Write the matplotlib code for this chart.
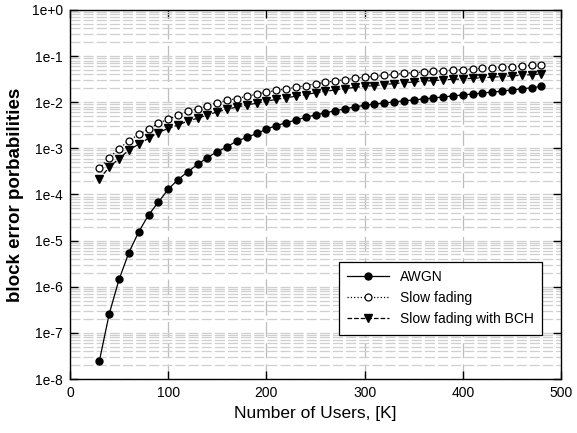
import matplotlib
matplotlib.use('Agg')
import matplotlib.pyplot as plt
from matplotlib.ticker import LogLocator, FixedLocator

plt.rcParams['font.family'] = ['Liberation Sans', 'DejaVu Sans']

# number of users, K
users = [30, 40, 50, 60, 70, 80, 90, 100, 110, 120, 130, 140, 150, 160, 170,
         180, 190, 200, 210, 220, 230, 240, 250, 260, 270, 280, 290, 300, 310,
         320, 330, 340, 350, 360, 370, 380, 390, 400, 410, 420, 430, 440, 450,
         460, 470, 480]

awgn = [2.5e-8, 2.6e-7, 1.45e-6, 5.5e-6, 1.55e-5, 3.6e-5, 6.8e-5, 1.3e-4,
        2.1e-4, 3.1e-4, 4.5e-4, 6.3e-4, 8.5e-4, 1.08e-3, 1.45e-3, 1.73e-3,
        2.1e-3, 2.6e-3, 3.1e-3, 3.6e-3, 4.1e-3, 4.7e-3, 5.3e-3, 5.9e-3,
        6.5e-3, 7.2e-3, 7.9e-3, 8.6e-3, 9.1e-3, 9.6e-3, 1.02e-2, 1.07e-2,
        1.12e-2, 1.18e-2, 1.24e-2, 1.30e-2, 1.37e-2, 1.44e-2, 1.51e-2,
        1.58e-2, 1.66e-2, 1.74e-2, 1.85e-2, 1.95e-2, 2.06e-2, 2.2e-2]

slow_fading = [3.7e-4, 6.3e-4, 9.8e-4, 1.47e-3, 2.0e-3, 2.6e-3, 3.5e-3, 4.3e-3,
               5.2e-3, 6.3e-3, 7.2e-3, 8.4e-3, 9.8e-3, 1.1e-2, 1.2e-2, 1.35e-2,
               1.5e-2, 1.65e-2, 1.8e-2, 1.95e-2, 2.1e-2, 2.3e-2, 2.5e-2, 2.7e-2,
               2.9e-2, 3.1e-2, 3.3e-2, 3.5e-2, 3.65e-2, 3.8e-2, 4.0e-2, 4.2e-2,
               4.4e-2, 4.5e-2, 4.65e-2, 4.8e-2, 4.95e-2, 5.1e-2, 5.25e-2, 5.4e-2,
               5.55e-2, 5.7e-2, 5.85e-2, 6.1e-2, 6.3e-2, 6.5e-2]

slow_fading_bch = [2.2e-4, 3.9e-4, 6.0e-4, 9.2e-4, 1.23e-3, 1.65e-3, 2.2e-3,
                   2.7e-3, 3.2e-3, 3.9e-3, 4.5e-3, 5.3e-3, 6.2e-3, 7.0e-3,
                   7.9e-3, 8.7e-3, 9.5e-3, 1.05e-2, 1.15e-2, 1.25e-2, 1.35e-2,
                   1.47e-2, 1.6e-2, 1.72e-2, 1.85e-2, 1.97e-2, 2.1e-2, 2.2e-2,
                   2.3e-2, 2.42e-2, 2.53e-2, 2.64e-2, 2.75e-2, 2.85e-2, 2.95e-2,
                   3.05e-2, 3.13e-2, 3.2e-2, 3.3e-2, 3.4e-2, 3.5e-2, 3.6e-2,
                   3.72e-2, 3.85e-2, 3.95e-2, 4.1e-2]

y_ticks = [1e0, 1e-1, 1e-2, 1e-3, 1e-4, 1e-5, 1e-6, 1e-7, 1e-8]
y_labels = ['1e+0', '1e-1', '1e-2', '1e-3', '1e-4', '1e-5', '1e-6', '1e-7', '1e-8']

fig = plt.figure(figsize=(5.77, 4.33), dpi=100)
ax = fig.add_axes([0.1213, 0.1247, 0.851, 0.8523])

ax.plot(users, awgn, color='black', lw=0.9, ls='-', marker='o', ms=5,
        mfc='black', mec='black', label='AWGN', zorder=3)
ax.plot(users, slow_fading, color='black', lw=0.9, ls=':', marker='o', ms=5,
        mfc='white', mec='black', mew=0.9, label='Slow fading', zorder=3)
ax.plot(users, slow_fading_bch, color='black', lw=0.9, ls='--', marker='v',
        ms=6, mfc='black', mec='black', label='Slow fading with BCH', zorder=3)

ax.set_yscale('log')
ax.set_xlim(0, 500)
ax.set_ylim(1e-8, 1e0)
ax.yaxis.set_major_locator(FixedLocator(y_ticks))
ax.set_yticklabels(y_labels)
ax.yaxis.set_minor_locator(LogLocator(base=10, subs=range(2, 10), numticks=20))
ax.xaxis.set_major_locator(FixedLocator([0, 100, 200, 300, 400, 500]))

ax.grid(which='minor', axis='y', color='#cfcfcf', ls=(0, (8, 2.5)), lw=0.9)
ax.grid(which='major', axis='y', color='#cfcfcf', ls=(0, (8, 2.5)), lw=0.9)
ax.grid(which='major', axis='x', color='#bdbdbd', ls=(0, (12, 5)), lw=0.9)

ax.tick_params(which='major', direction='in', length=6, width=1,
               top=True, right=True, labelsize=10, colors='black', pad=5)
ax.tick_params(which='minor', length=0)
for s in ax.spines.values():
    s.set_linewidth(1)

ax.set_xlabel('Number of Users, [K]', fontsize=12.5, labelpad=4)
ax.set_ylabel('block error porbabilities', fontsize=13.5, fontweight='bold',
              labelpad=6)

leg = ax.legend(loc='upper left', bbox_to_anchor=(0.548, 0.317),
                fontsize=10, frameon=True, fancybox=False,
                edgecolor='black', framealpha=1, handlelength=3.0,
                borderpad=0.6, labelspacing=0.5, borderaxespad=0,
                handletextpad=0.8)
leg.get_frame().set_linewidth(0.9)

fig.savefig('out.png', dpi=100)
plt.close()
